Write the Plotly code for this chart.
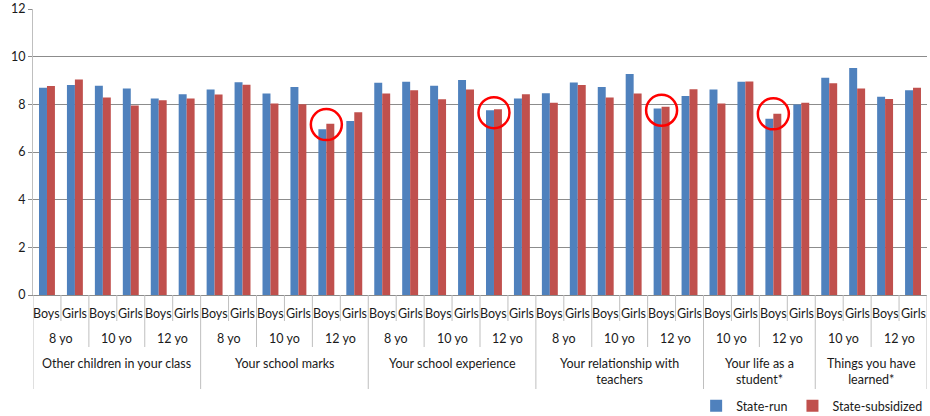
import plotly.graph_objects as go

# --- data -------------------------------------------------------------
topics = [
    "Other children in your class",
    "Your school marks",
    "Your school experience",
    "Your relationship with<br>teachers",
    "Your life as a<br>student*",
    "Things you have<br>learned*",
]
topic_ages = [
    ["8 yo", "10 yo", "12 yo"],
    ["8 yo", "10 yo", "12 yo"],
    ["8 yo", "10 yo", "12 yo"],
    ["8 yo", "10 yo", "12 yo"],
    ["10 yo", "12 yo"],
    ["10 yo", "12 yo"],
]
genders = ["Boys", "Girls"]

state_run = [
    8.70, 8.81, 8.78, 8.66, 8.25, 8.42,
    8.62, 8.93, 8.45, 8.73, 6.95, 7.30,
    8.91, 8.95, 8.78, 9.02, 7.75, 8.25,
    8.46, 8.92, 8.73, 9.27, 7.82, 8.35,
    8.62, 8.95, 7.40, 7.99,
    9.12, 9.52, 8.32, 8.59,
]
state_subsidized = [
    8.77, 9.04, 8.29, 7.95, 8.17, 8.25,
    8.41, 8.82, 8.03, 8.00, 7.19, 7.67,
    8.45, 8.59, 8.21, 8.62, 7.79, 8.42,
    8.07, 8.81, 8.29, 8.45, 7.90, 8.63,
    8.03, 8.96, 7.60, 8.07,
    8.88, 8.66, 8.22, 8.70,
]

# groups circled in red: (topic index, age, gender) and circle centre value
highlight_groups = [(1, "12 yo", "Boys"), (2, "12 yo", "Boys"),
                    (3, "12 yo", "Boys"), (4, "12 yo", "Boys")]
highlight_values = [7.15, 7.65, 7.75, 7.60]

# --- style -------------------------------------------------------------
FONT = "Lato"
FS = 12.5
TEXT = "#1a1a1a"
BLUE = "#4F81BD"
RED = "#C0504D"
GRID = "#8c8c8c"
DIVIDER = "#bfbfbf"

# --- build category keys and label positions ---------------------------
keys = []
gender_pos, age_pos, topic_pos = [], [], []
topic_bounds, age_bounds = {0}, set()
idx = 0
for t, ages in enumerate(topics):
    t_start = idx
    for age in topic_ages[t]:
        a_start = idx
        for g in genders:
            keys.append(f"{t}|{age}|{g}")
            gender_pos.append((idx, g))
            idx += 1
        age_pos.append(((a_start + idx - 1) / 2, age))
        age_bounds.add(idx)
    topic_pos.append(((t_start + idx - 1) / 2, ages))
    topic_bounds.add(idx)

fig = go.Figure()
fig.add_trace(go.Bar(x=keys, y=state_run, name="State-run",
                     marker=dict(color=BLUE, line=dict(width=0))))
fig.add_trace(go.Bar(x=keys, y=state_subsidized, name="State-subsidized",
                     marker=dict(color=RED, line=dict(width=0))))
fig.add_trace(go.Scatter(
    x=[f"{t}|{a}|{g}" for t, a, g in highlight_groups],
    y=highlight_values, mode="markers", showlegend=False, cliponaxis=False,
    marker=dict(symbol="circle-open", size=31, color="#FF0000",
                line=dict(width=2.5, color="#FF0000")),
    hoverinfo="skip"))

annotations = []
for x, g in gender_pos:
    annotations.append(dict(x=x, y=0, xref="x", yref="paper", text=g,
                            showarrow=False, yshift=-18, yanchor="middle"))
for x, a in age_pos:
    annotations.append(dict(x=x, y=0, xref="x", yref="paper", text=a,
                            showarrow=False, yshift=-43, yanchor="middle"))
for x, t in topic_pos:
    annotations.append(dict(x=x, y=0, xref="x", yref="paper", text=t,
                            showarrow=False, yshift=-59, yanchor="top"))
for a in annotations:
    a["font"] = dict(family=FONT, size=FS, color=TEXT)

shapes = []
for b in range(len(keys) + 1):
    if b in topic_bounds:
        length = 94
    elif b in age_bounds:
        length = 52
    else:
        length = 26
    shapes.append(dict(type="line", xref="x", yref="paper",
                       x0=b - 0.5, x1=b - 0.5, ysizemode="pixel", yanchor=0,
                       y0=0, y1=-length, line=dict(color=DIVIDER, width=1)))

fig.update_layout(
    width=930, height=416,
    margin=dict(l=33, r=3, t=9, b=121),
    paper_bgcolor="white", plot_bgcolor="white",
    barmode="group", bargap=0.43, bargroupgap=0,
    font=dict(family=FONT, size=FS, color=TEXT),
    annotations=annotations, shapes=shapes,
    legend=dict(orientation="h", xref="container", yref="container",
                x=0.998, xanchor="right", y=0.024, yanchor="middle",
                font=dict(family=FONT, size=FS, color=TEXT),
                itemwidth=30, bgcolor="rgba(0,0,0,0)"),
    showlegend=True,
)
fig.update_xaxes(type="category", categoryorder="array", categoryarray=keys,
                 showticklabels=False, showgrid=False, range=[-0.5, len(keys) - 0.5],
                 showline=True, linecolor=GRID, linewidth=1, ticks="",
                 automargin=False, fixedrange=True)
fig.update_yaxes(range=[0, 12], dtick=2, showgrid=True, gridcolor=GRID, gridwidth=1,
                 zeroline=False, showline=True, linecolor=DIVIDER, linewidth=1,
                 ticks="outside", ticklen=4, tickcolor=GRID,
                 tickfont=dict(family=FONT, size=FS, color=TEXT),
                 automargin=False, fixedrange=True)

fig.write_html("out.html")
